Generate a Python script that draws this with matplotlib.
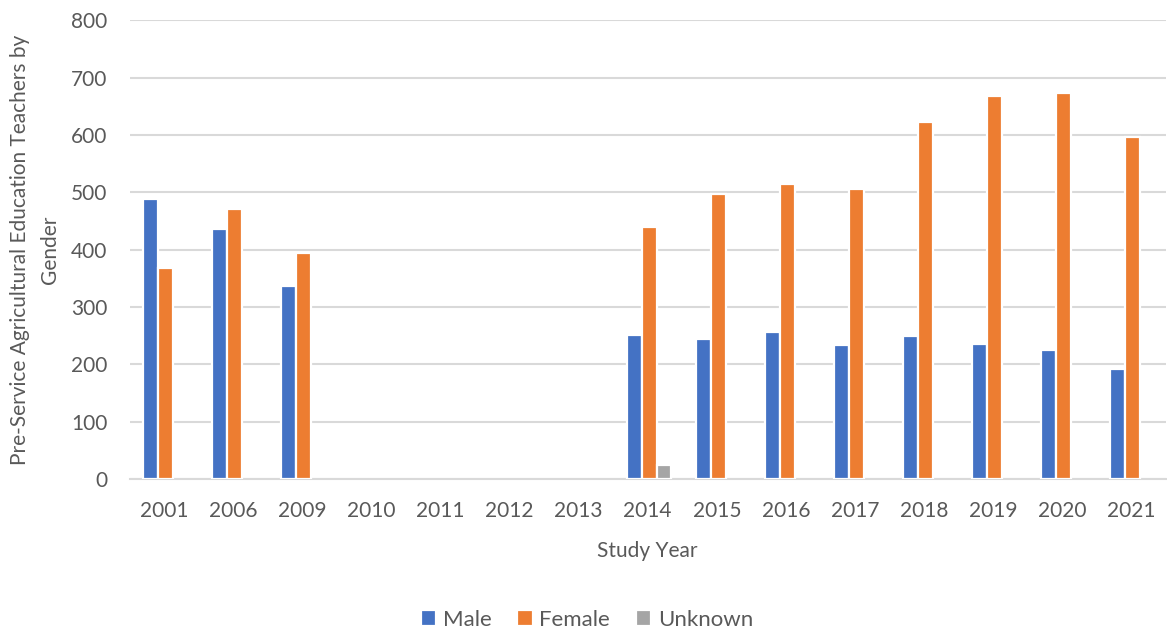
import matplotlib.pyplot as plt
import numpy as np

# ========== data ==========
years = ['2001', '2006', '2009', '2010', '2011', '2012', '2013', '2014',
         '2015', '2016', '2017', '2018', '2019', '2020', '2021']
male = [488, 435, 337, None, None, None, None, 251,
        244, 256, 234, 250, 236, 224, 191]
female = [368, 470, 394, None, None, None, None, 440,
          497, 515, 505, 623, 668, 673, 596]
unknown = [None, None, None, None, None, None, None, 25,
           None, None, None, None, None, None, None]

# ========== plot ==========
plt.rcParams['font.family'] = ['Lato', 'DejaVu Sans']
text_col = '#595959'
grid_col = '#d9d9d9'
fs = 15

fig = plt.figure(figsize=(11.67, 6.31), dpi=100)
ax = fig.add_axes([0.111, 0.241, 0.888, 0.727])

x = np.arange(len(years))
w = 0.216
series = [('Male', male, '#4472C4'),
          ('Female', female, '#ED7D31'),
          ('Unknown', unknown, '#A5A5A5')]
for i, (name, vals, col) in enumerate(series):
    h = np.array([np.nan if v is None else v for v in vals], dtype=float)
    ax.bar(x + (i - 1) * w + 0.02, h, width=w, color=col, edgecolor='white',
           linewidth=1.6, label=name, zorder=3)

ax.set_xlim(-0.5, len(years) - 0.5)
ax.set_ylim(0, 800)
ax.set_yticks(np.arange(0, 801, 100))
ax.set_xticks(x)
ax.set_xticklabels(years)
ax.yaxis.grid(True, color=grid_col, linewidth=1.5, zorder=0)
ax.set_axisbelow(True)
for side in ['top', 'right', 'left']:
    ax.spines[side].set_visible(False)
ax.spines['bottom'].set_color(grid_col)
ax.spines['bottom'].set_linewidth(1.5)
ax.tick_params(axis='both', length=0, labelsize=fs, colors=text_col)
ax.tick_params(axis='y', pad=16)
ax.tick_params(axis='x', pad=16)

ax.set_xlabel('Study Year', fontsize=fs, color=text_col, labelpad=14)
ax.set_ylabel('Pre-Service Agricultural Education Teachers by\nGender',
              fontsize=fs, color=text_col, labelpad=8, linespacing=1.6)

fig.legend(loc='lower center', ncol=3, frameon=False, fontsize=16,
           bbox_to_anchor=(0.503, -0.03), handlelength=0.7, handleheight=0.7,
           handletextpad=0.3, columnspacing=1.15, labelcolor=text_col)

fig.savefig('out.png', dpi=100)
